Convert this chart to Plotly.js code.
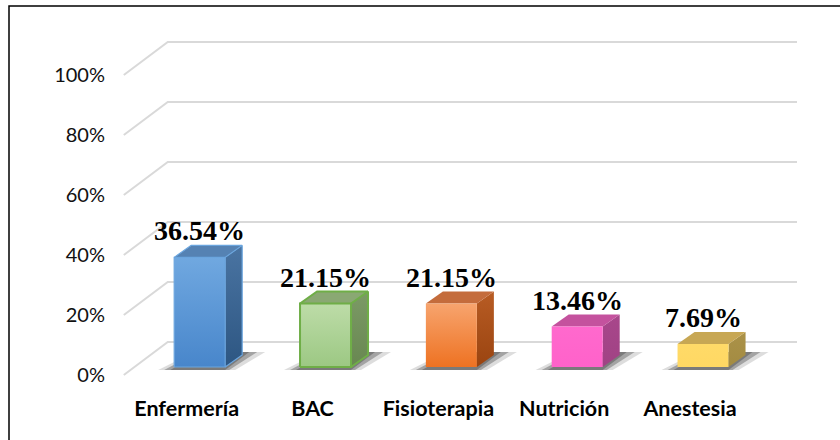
<!DOCTYPE html>
<html><head><meta charset="utf-8">
<script src="https://cdn.plot.ly/plotly-3.0.1.min.js"></script>
<style>html,body{margin:0;padding:0;background:#fff;}#chart{width:840px;height:440px;}</style>
</head><body><div id="chart"></div>
<script>
const categories = ['Enfermería', 'BAC', 'Fisioterapia', 'Nutrición', 'Anestesia'];
const values = [36.54, 21.15, 21.15, 13.46, 7.69];
const valueLabels = ['36.54%', '21.15%', '21.15%', '13.46%', '7.69%'];
const yTicks = [0, 20, 40, 60, 80, 100];
const yTickLabels = ['0%', '20%', '40%', '60%', '80%', '100%'];

// styles
const frontTop = ['#70a8e0', '#bddca8', '#f7a46e', '#ff69cd', '#ffda68'];
const frontBot = ['#4886cb', '#9cc883', '#ee7222', '#ff62ca', '#ffd863'];
const sideTop = ['#4a74a2', '#7c9a66', '#b85c24', '#a8478b', '#ab9248'];
const sideBot = ['#2d5682', '#688751', '#9a4410', '#a04284', '#a38b42'];
const topCol = ['#5582b3', '#8aa873', '#c46c3c', '#c4529e', '#c7a754'];
const edgeCol = ['#6aa5de', '#6fae47', 'rgba(0,0,0,0)', 'rgba(0,0,0,0)', 'rgba(0,0,0,0)'];
const edgeW = [1.2, 2, 0, 0, 0];

const W = 840, H = 440;
const mL = 120, mR = 43, mT = 38, mB = 62;
const xMin = -0.53, xMax = 4.85, yMin = -1, yMax = 112.33;
const PX = (W - mL - mR) / (xMax - xMin);
const PY = (H - mT - mB) / (yMax - yMin);
const xu = p => p / PX, yu = p => p / PY;

const traces = [];
const annotations = [];
const shapes = [];

// gridlines (perspective)
yTicks.forEach(v => {
  const x0 = -0.5, x1 = x0 + xu(44), y1 = v + yu(33);
  shapes.push({type: 'path', xref: 'x', yref: 'y', layer: 'below',
    path: `M ${x0},${v} L ${x1},${y1} L ${xMax},${y1}`,
    line: {color: '#d9d9d9', width: 2}});
});

// outer border
shapes.push({type: 'rect', xref: 'paper', yref: 'paper',
  x0: (9 - mL) / (W - mL - mR), x1: 1.2,
  y0: -0.5, y1: (H - mB - 6) / (H - mT - mB),
  line: {color: '#000', width: 1.5}, fillcolor: 'rgba(0,0,0,0)'});

const dx = xu(17), dy = yu(12);
values.forEach((v, i) => {
  const fl = i + xu(13) - xu(25.5), fr = fl + xu(51);
  const fb = yu(8), ft = fb + v;
  // shadow
  const sh = (a, b, c, d, op) => traces.push({type: 'scatter', mode: 'lines', fill: 'toself',
    x: [fl - xu(a), fr + xu(b), fr + xu(c), fl + xu(d), fl - xu(a)],
    y: [fb - yu(3), fb - yu(3), fb + yu(15), fb + yu(15), fb - yu(3)],
    line: {width: 0}, fillcolor: `rgba(30,30,30,${op})`, hoverinfo: 'skip', showlegend: false});
  sh(16, 10, 40, 20, 0.15);
  sh(10, 4, 32, 24, 0.3);
  sh(4, 0, 24, 28, 0.3);
  // side
  traces.push({type: 'scatter', mode: 'lines', fill: 'toself',
    x: [fr, fr + dx, fr + dx, fr, fr], y: [fb, fb + dy, ft + dy, ft, fb],
    line: {width: 0}, fillcolor: sideBot[i],
    fillgradient: {type: 'vertical', start: fb, stop: ft + dy, colorscale: [[0, sideBot[i]], [1, sideTop[i]]]},
    hoverinfo: 'skip', showlegend: false});
  // top
  traces.push({type: 'scatter', mode: 'lines', fill: 'toself',
    x: [fl, fr, fr + dx, fl + dx, fl], y: [ft, ft, ft + dy, ft + dy, ft],
    line: {width: 0}, fillcolor: topCol[i], hoverinfo: 'skip', showlegend: false});
  // front
  traces.push({type: 'scatter', mode: 'lines', fill: 'toself',
    x: [fl, fr, fr, fl, fl], y: [fb, fb, ft, ft, fb],
    line: {width: edgeW[i], color: edgeCol[i]}, fillcolor: frontBot[i],
    fillgradient: {type: 'vertical', start: fb, stop: ft, colorscale: [[0, frontBot[i]], [1, frontTop[i]]]},
    hoverinfo: 'skip', showlegend: false});
  // edges for outlined bars
  if (edgeW[i] > 0) {
    traces.push({type: 'scatter', mode: 'lines',
      x: [fr, fr + dx, fr + dx, fr, null, fl, fl + dx, fr + dx], y: [fb, fb + dy, ft + dy, ft, null, ft, ft + dy, ft + dy],
      line: {width: edgeW[i], color: edgeCol[i]}, hoverinfo: 'skip', showlegend: false});
  }
  annotations.push({x: (fl + fr) / 2, y: ft + dy, xref: 'x', yref: 'y', text: valueLabels[i],
    showarrow: false, yanchor: 'bottom', yshift: -3,
    font: {family: 'Liberation Serif', size: 28, color: '#000', weight: 'bold'}});
});

const layout = {
  width: W, height: H,
  margin: {l: mL, r: mR, t: mT, b: mB, pad: 0},
  paper_bgcolor: '#fff', plot_bgcolor: 'rgba(0,0,0,0)',
  showlegend: false,
  xaxis: {range: [xMin, xMax], tickvals: categories.map((c, i) => i), ticktext: categories,
    showgrid: false, zeroline: false, showline: false, ticks: '', ticklabelstandoff: 15,
    tickfont: {family: 'Lato', size: 21.5, color: '#000', weight: 'bold'}, fixedrange: true},
  yaxis: {range: [yMin, yMax], tickvals: yTicks, ticktext: yTickLabels,
    showgrid: false, zeroline: false, showline: false, ticks: '', ticklabelstandoff: 14,
    tickfont: {family: 'Lato', size: 20, color: '#111'}, fixedrange: true},
  shapes: shapes, annotations: annotations
};
Plotly.newPlot('chart', traces, layout, {displayModeBar: false, staticPlot: true});
</script></body></html>
